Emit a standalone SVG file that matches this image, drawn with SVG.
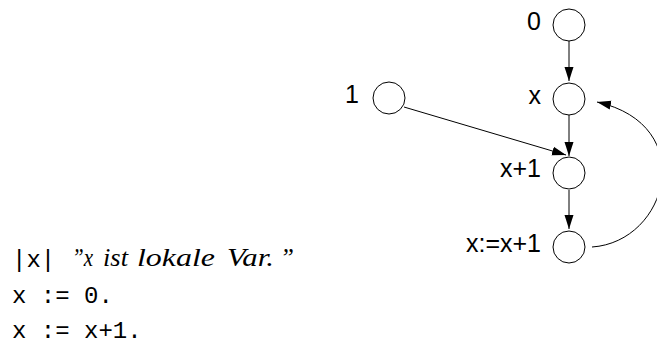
<svg xmlns="http://www.w3.org/2000/svg" width="657" height="345" viewBox="0 0 657 345">
<style>
.n{fill:#fff;stroke:#000;stroke-width:1}
.l{font-family:"Liberation Sans",Arial,sans-serif;font-size:25px;fill:#000}
.e{fill:none;stroke:#000;stroke-width:1}
.m{font-family:"Liberation Mono","DejaVu Sans Mono",monospace;font-size:24px;fill:#000}
.i{font-family:"Liberation Serif","DejaVu Serif",serif;font-style:italic;font-size:25px;fill:#000}
</style>
<defs>
<marker id="a" markerWidth="14" markerHeight="10" refX="14" refY="5" orient="auto" markerUnits="userSpaceOnUse">
<path d="M0,0.5 L14,5 L0,9.5 z" fill="#000"/>
</marker>
</defs>
<g id="connectors">
<line class="e" x1="569" y1="41" x2="569" y2="81" marker-end="url(#a)"/>
<line class="e" x1="569" y1="115" x2="569" y2="156" marker-end="url(#a)"/>
<line class="e" x1="569" y1="190" x2="569" y2="229" marker-end="url(#a)"/>
<line class="e" x1="404" y1="107" x2="566" y2="155" marker-end="url(#a)"/>
<path class="e" d="M592 247 C668 242 700 125 597 102" marker-end="url(#a)"/>
</g>
<g id="n0"><circle class="n" cx="569" cy="25" r="16"/><text class="l" x="541" y="30" text-anchor="end">0</text></g>
<g id="nx"><circle class="n" cx="569" cy="99" r="16"/><text class="l" x="541" y="104" text-anchor="end">x</text></g>
<g id="n1"><circle class="n" cx="389" cy="98" r="16"/><text class="l" x="359" y="103" text-anchor="end">1</text></g>
<g id="nx1"><circle class="n" cx="569" cy="173" r="16"/><text class="l" x="541" y="177" text-anchor="end">x+1</text></g>
<g id="nass"><circle class="n" cx="569" cy="247" r="16"/><text class="l" x="541" y="252" text-anchor="end">x:=x+1</text></g>
<g id="code">
<text class="m" x="12" y="267">|x|</text>
<text class="i" y="266"><tspan x="72" textLength="21" lengthAdjust="spacingAndGlyphs">”x</tspan><tspan x="103" textLength="25" lengthAdjust="spacingAndGlyphs">ist</tspan><tspan x="137" textLength="78" lengthAdjust="spacingAndGlyphs">lokale</tspan><tspan x="227" textLength="47" lengthAdjust="spacingAndGlyphs">Var.</tspan><tspan x="280">”</tspan></text>
<text class="m" x="12" y="303">x := 0.</text>
<text class="m" x="12" y="338">x := x+1.</text>
</g>
</svg>
